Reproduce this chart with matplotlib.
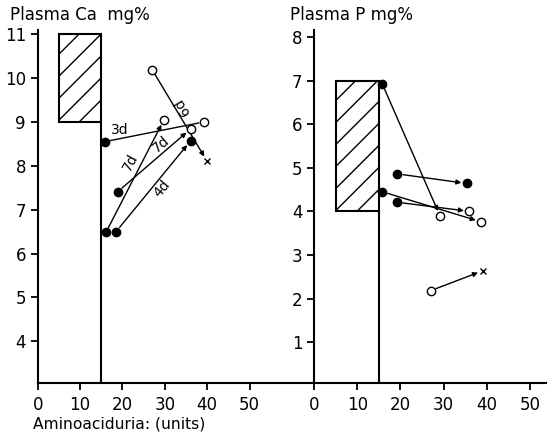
import matplotlib.pyplot as plt
import numpy as np
from matplotlib.patches import Rectangle

plt.rcParams['font.family'] = 'DejaVu Sans'

# normal ranges (shaded boxes)
ca_norm_x = [5, 15]
ca_norm_y = [9, 11]
p_norm_x = [5, 15]
p_norm_y = [4, 7]

# Plasma Ca: start -> end of each patient track
ca_x0 = [15.9, 27.0, 16.1, 18.9, 18.5]
ca_y0 = [8.55, 10.19, 6.48, 7.41, 6.50]
ca_x1 = [39.3, 40.0, 29.8, 36.1, 36.1]
ca_y1 = [9.00, 8.10, 9.05, 8.84, 8.57]
ca_m0 = ['filled', 'open', 'filled', 'filled', 'filled']
ca_m1 = ['open', 'cross', 'open', 'open', 'filled']
ca_arrow = [False, True, True, True, True]
ca_days = ['3d', '6d', '7d', '7d', '4d']
ca_lab_x = [19.4, 34.0, 22.0, 29.1, 29.3]
ca_lab_y = [8.82, 9.34, 8.07, 8.48, 7.48]
ca_lab_rot = [0, 121, 62, 40, 50]

# Plasma P
p_x0 = [15.8, 19.3, 15.8, 19.2, 27.0]
p_y0 = [6.92, 4.86, 4.45, 4.21, 2.18]
p_x1 = [29.2, 35.4, 38.7, 36.0, 39.2]
p_y1 = [3.89, 4.64, 3.76, 4.00, 2.64]
p_m0 = ['filled', 'filled', 'filled', 'filled', 'open']
p_m1 = ['open', 'filled', 'open', 'open', 'cross']
p_arrow = [True, True, True, True, True]

xticks = [0, 10, 20, 30, 40, 50]
ca_yticks = [4, 5, 6, 7, 8, 9, 10, 11]
p_yticks = [1, 2, 3, 4, 5, 6, 7, 8]

HATCH_GAP_PX = 22


def draw_marker(ax, x, y, kind):
    if kind == 'filled':
        ax.plot(x, y, 'o', mfc='k', mec='k', ms=6, zorder=5)
    elif kind == 'open':
        ax.plot(x, y, 'o', mfc='white', mec='k', ms=6, mew=1.0, zorder=5)
    else:
        ax.plot(x, y, 'x', color='k', ms=4, mew=1.0, zorder=5)


def hatch_box(ax, nx, ny):
    box = Rectangle((nx[0], ny[0]), nx[1] - nx[0], ny[1] - ny[0],
                    fill=False, lw=1.5, ec='k', zorder=3)
    ax.add_patch(box)
    # 45 degree lines (in pixels), clipped to the box
    (px0, py0), (px1, py1) = ax.transData.transform([(nx[0], ny[0]), (nx[1], ny[1])])
    w, h = px1 - px0, py1 - py0
    inv = ax.transData.inverted()
    for c in np.arange(-w, h, HATCH_GAP_PX):
        a = inv.transform([(px0, py0 + c), (px0 + w + h, py0 + c + w + h)])
        ln, = ax.plot(a[:, 0], a[:, 1], color='k', lw=1.0)
        ln.set_clip_path(box)


def draw_panel(ax, nx, ny, x0, y0, x1, y1, m0, m1, arrows, ylim, yticks, xlim):
    ax.set_xlim(*xlim)
    ax.set_ylim(*ylim)
    for s in ('top', 'right'):
        ax.spines[s].set_visible(False)
    for s in ('left', 'bottom'):
        ax.spines[s].set_linewidth(1.5)
    ax.set_xticks(xticks)
    ax.set_yticks(yticks)
    ax.tick_params(direction='out', length=5, width=1.3, labelsize=12)
    ax.tick_params(axis='x', pad=4)
    ax.patch.set_alpha(0)

    hatch_box(ax, nx, ny)
    ax.plot([nx[1], nx[1]], [ylim[0], ny[0]], color='k', lw=1.5)

    for i in range(len(x0)):
        style = '-|>' if arrows[i] else '-'
        ax.annotate('', xy=(x1[i], y1[i]), xytext=(x0[i], y0[i]),
                    arrowprops=dict(arrowstyle=style, color='k', lw=1.0,
                                    shrinkA=4, shrinkB=4, mutation_scale=7))
        draw_marker(ax, x0[i], y0[i], m0[i])
        draw_marker(ax, x1[i], y1[i], m1[i])


fig = plt.figure(figsize=(5.47, 4.40), dpi=100)
ax1 = fig.add_axes([0.0689, 0.1295, 0.5051, 0.803])
ax2 = fig.add_axes([0.5746, 0.1295, 0.4254, 0.803])

draw_panel(ax1, ca_norm_x, ca_norm_y, ca_x0, ca_y0, ca_x1, ca_y1,
           ca_m0, ca_m1, ca_arrow, (3.05, 11.1), ca_yticks, (0, 65.2))
draw_panel(ax2, p_norm_x, p_norm_y, p_x0, p_y0, p_x1, p_y1,
           p_m0, p_m1, p_arrow, (0.06, 8.17), p_yticks, (0, 54))

for t, x, y, r in zip(ca_days, ca_lab_x, ca_lab_y, ca_lab_rot):
    ax1.text(x, y, t, rotation=r, ha='center', va='center', fontsize=10)

fig.text(10 / 547, 1 - 15 / 440, 'Plasma Ca  mg%', fontsize=12, va='center')
fig.text(290 / 547, 1 - 15 / 440, 'Plasma P mg%', fontsize=12, va='center')
fig.text(33 / 547, 1 - 424 / 440, 'Aminoaciduria: (units)', fontsize=11.2, va='center')

fig.savefig('out.png', dpi=100)
